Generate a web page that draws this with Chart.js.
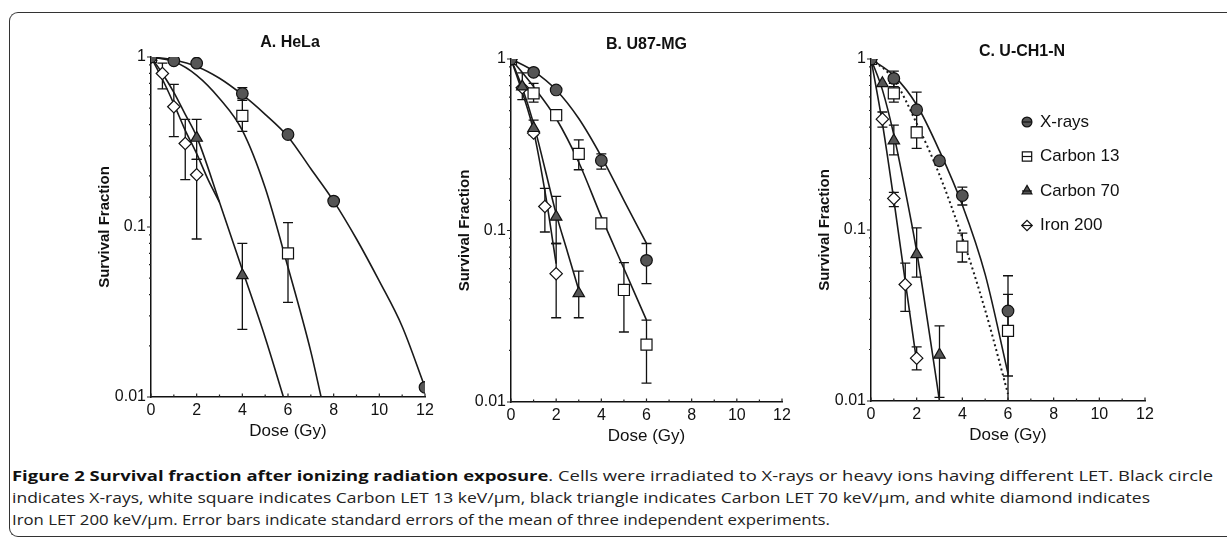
<!DOCTYPE html>
<html>
<head>
<meta charset="utf-8">
<script src="https://cdn.jsdelivr.net/npm/chart.js@4.4.0/dist/chart.umd.min.js"></script>
<style>
  body { margin: 0; width: 1227px; height: 539px; background: #fff; overflow: hidden; position: relative; }
  .frame { position: absolute; left: 9px; top: 12px; width: 1260px; height: 523px; border: 1.5px solid #333; border-right: none; border-radius: 9px 0 0 9px; }
  canvas { position: absolute; }
  .caption { position: absolute; left: 12px; font-family: 'Open Sans', sans-serif; font-size: 14.5px; line-height: 22px; color: #222; white-space: nowrap; transform-origin: 0 0; }
  .caption b { color: #111; }
</style>
</head>
<body>
<div class="frame"></div>
<canvas id="chartA"></canvas>
<canvas id="chartB"></canvas>
<canvas id="chartC"></canvas>
<div class="caption" id="cap1" style="top:465px"><b>Figure 2 Survival fraction after ionizing radiation exposure</b>. Cells were irradiated to X-rays or heavy ions having different LET. Black circle</div>
<div class="caption" id="cap2" style="top:487px">indicates X-rays, white square indicates Carbon LET 13 keV/µm, black triangle indicates Carbon LET 70 keV/µm, and white diamond indicates</div>
<div class="caption" id="cap3" style="top:509px">Iron LET 200 keV/µm. Error bars indicate standard errors of the mean of three independent experiments.</div>
<script>
// axes
const doseTicks = [0, 2, 4, 6, 8, 10, 12];
const sfTicks = [0.01, 0.1, 1];
const panelTitles = ['A. HeLa', 'B. U87-MG', 'C. U-CH1-N'];
const seriesNames = ['X-rays', 'Carbon 13', 'Carbon 70', 'Iron 200'];

// A. HeLa  -- [dose, survival] / [dose, low, high]
const helaXray = [[0,1],[1,0.95],[2,0.92],[4,0.61],[6,0.35],[8,0.142],[12,0.0114]];
const helaXrayErr = [[4,0.57,0.66]];
const helaXrayFit = [[0,1],[1,0.96],[2,0.88],[3,0.75],[4,0.6],[5,0.46],[6,0.34],[7,0.22],[8,0.142],[9,0.085],[10,0.048],[11,0.026],[12,0.0114]];
const helaC13 = [[0,1],[4,0.45],[6,0.07]];
const helaC13Err = [[4,0.365,0.556],[6,0.036,0.106]];
const helaC13Fit = [[0,1],[1,0.94],[2,0.78],[3,0.57],[4,0.37],[5,0.17],[6,0.058],[7,0.0185],[7.45,0.01]];
const helaC70 = [[0,1],[2,0.334],[4,0.052]];
const helaC70Err = [[2,0.25,0.43],[4,0.025,0.08]];
const helaC70Fit = [[0,1],[0.5,0.8],[1,0.62],[1.5,0.46],[2,0.34],[3,0.14],[4,0.056],[5,0.0224],[5.8,0.01]];
const helaIron = [[0,1],[0.5,0.8],[1,0.51],[1.5,0.31],[2,0.203]];
const helaIronErr = [[0.5,0.65,0.92],[1,0.34,0.69],[1.5,0.19,0.43],[2,0.085,0.25]];
const helaIronFit = [[0,1],[0.5,0.74],[1,0.53],[1.5,0.37],[2,0.27],[2.5,0.19],[3,0.14]];

// B. U87-MG
const u87Xray = [[0,1],[1,0.836],[2,0.66],[4,0.256],[6,0.067]];
const u87XrayErr = [[4,0.228,0.28],[6,0.049,0.084]];
const u87XrayFit = [[0,1],[1,0.85],[2,0.66],[3,0.45],[4,0.27],[5,0.15],[6,0.084]];
const u87C13 = [[0,1],[1,0.63],[2,0.47],[3,0.28],[4,0.11],[5,0.045],[6,0.0216]];
const u87C13Err = [[1,0.56,0.72],[3,0.226,0.338],[5,0.0256,0.065],[6,0.0129,0.03]];
const u87C13Fit = [[0,1],[1,0.69],[2,0.45],[3,0.25],[4,0.12],[5,0.06],[6,0.03]];
const u87C70 = [[0,1],[0.5,0.69],[1,0.395],[2,0.12],[3,0.043]];
const u87C70Err = [[0.5,0.58,0.83],[1,0.36,0.44],[2,0.084,0.158],[3,0.031,0.058]];
const u87C70Fit = [[0,1],[0.5,0.68],[1,0.42],[1.5,0.23],[2,0.125],[2.5,0.075],[3,0.045]];
const u87Iron = [[0,1],[0.5,0.68],[1,0.37],[1.5,0.138],[2,0.056]];
const u87IronErr = [[1.5,0.098,0.176],[2,0.031,0.084]];
const u87IronFit = [[0,1],[0.5,0.64],[1,0.38],[1.5,0.17],[2,0.064]];

// C. U-CH1-N
const uchXray = [[0,1],[1,0.77],[2,0.505],[3,0.254],[4,0.159],[6,0.0336]];
const uchXrayErr = [[1,0.69,0.85],[2,0.40,0.64],[4,0.14,0.178],[6,0.009,0.054]];
const uchXrayFit = [[0,1],[1,0.8],[2,0.54],[3,0.29],[4,0.14],[5,0.055],[6,0.0145]];
const uchC13 = [[0,1],[1,0.63],[2,0.372],[4,0.08],[6,0.0257]];
const uchC13Err = [[1,0.56,0.72],[2,0.30,0.40],[4,0.065,0.096],[6,0.014,0.042]];
const uchC13Fit = [[0,1],[1,0.76],[2,0.42],[3,0.21],[4,0.09],[5,0.034],[6,0.011]];
const uchC70 = [[0,1],[0.5,0.72],[1,0.333],[2,0.072],[3,0.0186]];
const uchC70Err = [[1,0.275,0.41],[2,0.053,0.103],[3,0.0105,0.0275]];
const uchC70Fit = [[0,1],[0.5,0.66],[1,0.36],[1.5,0.17],[2,0.075],[2.5,0.028],[3,0.01]];
const uchIron = [[0,1],[0.5,0.445],[1,0.153],[1.5,0.048],[2,0.0178]];
const uchIronErr = [[0.5,0.40,0.49],[1,0.137,0.166],[1.5,0.0334,0.064],[2,0.0152,0.0207]];
const uchIronFit = [[0,1],[0.5,0.42],[1,0.15],[1.5,0.05],[2,0.017]];

Chart.defaults.font.family = "'Liberation Sans', Arial, sans-serif";
Chart.defaults.color = '#111';

const markerStyles = [
  { pointStyle: 'circle', radius: 5.8, fill: '#555' },
  { pointStyle: 'rect', radius: 7.8, fill: '#fff' },
  { pointStyle: 'triangle', radius: 6.6, fill: '#555' },
  { pointStyle: 'rectRot', radius: 6.2, fill: '#fff' }
];

const toXY = arr => arr.map(([x, y]) => ({ x, y }));
const isDecade = v => Math.abs(Math.log10(v) - Math.round(Math.log10(v))) < 1e-6;

const errorBars = {
  id: 'errorBars',
  beforeDatasetsDraw(chart, args, opts) {
    const { ctx, chartArea, scales: { x, y } } = chart;
    ctx.save();
    ctx.beginPath();
    ctx.rect(chartArea.left - 10, chartArea.top - 10, chartArea.right - chartArea.left + 20, chartArea.bottom - chartArea.top + 10);
    ctx.clip();
    ctx.strokeStyle = '#111';
    ctx.lineWidth = 1.3;
    opts.sets.forEach(set => set.forEach(([d, lo, hi]) => {
      const px = x.getPixelForValue(d);
      const p1 = Math.min(y.getPixelForValue(lo), chartArea.bottom);
      const p2 = y.getPixelForValue(hi);
      ctx.beginPath();
      ctx.moveTo(px, p1); ctx.lineTo(px, p2);
      if (lo >= 0.01) { ctx.moveTo(px - 5, p1); ctx.lineTo(px + 5, p1); }
      ctx.moveTo(px - 5, p2); ctx.lineTo(px + 5, p2);
      ctx.stroke();
    }));
    ctx.restore();
  }
};

// small tick marks: inward on x, outward on y (short for minor values)
const tickMarks = {
  id: 'tickMarks',
  afterDraw(chart) {
    const { ctx, chartArea, scales: { x, y } } = chart;
    ctx.save();
    ctx.strokeStyle = '#222';
    ctx.lineWidth = 1.2;
    ctx.beginPath();
    x.ticks.forEach(t => {
      const px = x.getPixelForValue(t.value);
      const len = doseTicks.includes(t.value) ? 3.5 : 2.5;
      ctx.moveTo(px, chartArea.bottom); ctx.lineTo(px, chartArea.bottom - len);
    });
    y.ticks.forEach(t => {
      const py = y.getPixelForValue(t.value);
      const len = isDecade(t.value) ? 4 : 2;
      ctx.moveTo(chartArea.left, py); ctx.lineTo(chartArea.left - len, py);
    });
    ctx.stroke();
    ctx.restore();
  }
};

const panelTitle = {
  id: 'panelTitle',
  afterDraw(chart, args, opts) {
    const { ctx, chartArea } = chart;
    ctx.save();
    ctx.font = "bold 16px 'Liberation Sans', Arial, sans-serif";
    ctx.fillStyle = '#111';
    ctx.textAlign = 'center';
    ctx.textBaseline = 'middle';
    ctx.fillText(opts.text, (chartArea.left + chartArea.right) / 2 + opts.dx, chartArea.top - opts.dy);
    ctx.restore();
  }
};

const seriesLegend = {
  id: 'seriesLegend',
  afterDraw(chart, args, opts) {
    if (!opts.show) return;
    const { ctx, chartArea } = chart;
    ctx.save();
    seriesNames.forEach((name, i) => {
      const mx = chartArea.left + 156;
      const my = chartArea.top + 63 + i * 34.5;
      const st = markerStyles[i];
      ctx.fillStyle = st.fill;
      ctx.strokeStyle = '#111';
      ctx.lineWidth = 1.2;
      Chart.helpers.drawPoint(ctx, { pointStyle: st.pointStyle, radius: st.radius * 0.85, borderWidth: 1.2 }, mx, my);
      ctx.beginPath();
      ctx.moveTo(mx - 5, my); ctx.lineTo(mx + 5, my);
      ctx.stroke();
      ctx.fillStyle = '#111';
      ctx.font = "17px 'Liberation Sans', Arial, sans-serif";
      ctx.textBaseline = 'middle';
      ctx.fillText(name, mx + 13, my);
    });
    ctx.restore();
  }
};

const panels = [
  { id: 'chartA', area: [151, 57, 425, 397], dx: 2, dy: 14,
    points: [helaXray, helaC13, helaC70, helaIron],
    fits: [helaXrayFit, helaC13Fit, helaC70Fit, helaIronFit],
    errs: [helaXrayErr, helaC13Err, helaC70Err, helaIronErr] },
  { id: 'chartB', area: [511, 59, 782, 402], dx: 0, dy: 14,
    points: [u87Xray, u87C13, u87C70, u87Iron],
    fits: [u87XrayFit, u87C13Fit, u87C70Fit, u87IronFit],
    errs: [u87XrayErr, u87C13Err, u87C70Err, u87IronErr] },
  { id: 'chartC', area: [871, 59, 1145, 401], dx: 14, dy: 7, legend: true, dotted: 1,
    points: [uchXray, uchC13, uchC70, uchIron],
    fits: [uchXrayFit, uchC13Fit, uchC70Fit, uchIronFit],
    errs: [uchXrayErr, uchC13Err, uchC70Err, uchIronErr] }
];

const padTop = 30, yAxisW = 60, xAxisH = 45, padRight = 15;

panels.forEach((p, idx) => {
  const [pl, pt, pr, pb] = p.area;
  const cv = document.getElementById(p.id);
  const left = pl - yAxisW, top = pt - padTop;
  const w = pr - left + padRight, h = pb - top + xAxisH;
  cv.width = w; cv.height = h;
  cv.style.left = left + 'px'; cv.style.top = top + 'px';

  const datasets = [];
  p.points.forEach((pts, i) => {
    const st = markerStyles[i];
    datasets.push({
      label: seriesNames[i], data: toXY(pts), showLine: false, order: 0,
      pointStyle: st.pointStyle, pointRadius: st.radius, pointBackgroundColor: st.fill,
      pointBorderColor: '#111', pointBorderWidth: 1.2
    });
  });
  p.fits.forEach((pts, i) => {
    datasets.push({
      label: seriesNames[i] + ' fit', data: toXY(pts), showLine: true, order: 1,
      pointRadius: 0, borderColor: '#1a1a1a', borderWidth: i === p.dotted ? 2 : 1.6,
      borderDash: i === p.dotted ? [2, 3] : [], cubicInterpolationMode: 'monotone'
    });
  });

  new Chart(cv, {
    type: 'scatter',
    data: { datasets },
    plugins: [errorBars, tickMarks, panelTitle, seriesLegend],
    options: {
      responsive: false, animation: false, events: [],
      layout: { padding: { left: 0, top: padTop, right: padRight, bottom: 0 } },
      plugins: {
        legend: { display: false }, tooltip: { enabled: false },
        errorBars: { sets: p.errs },
        panelTitle: { text: panelTitles[idx], dx: p.dx, dy: p.dy },
        seriesLegend: { show: !!p.legend }
      },
      scales: {
        x: {
          type: 'linear', min: 0, max: 12,
          afterFit: s => { s.height = xAxisH; },
          grid: { display: false, drawTicks: false },
          border: { display: true, color: '#111', width: 1.5 },
          ticks: { stepSize: 1, autoSkip: false, maxRotation: 0, padding: 4, font: { size: 16 },
            callback: v => doseTicks.includes(v) ? String(v) : '' },
          title: { display: true, text: 'Dose (Gy)', font: { size: 17 }, padding: { top: 0, bottom: 0 } }
        },
        y: {
          type: 'logarithmic', min: 0.01, max: 1,
          afterFit: s => { s.width = yAxisW; },
          grid: { display: false, drawTicks: false },
          border: { display: true, color: '#111', width: 1.5 },
          ticks: { autoSkip: false, padding: 5, font: { size: 16 },
            callback: v => (isDecade(v) && sfTicks.some(t => Math.abs(t - v) < 1e-9)) ? String(sfTicks.find(t => Math.abs(t - v) < 1e-9)) : '' },
          title: { display: true, text: 'Survival Fraction', font: { size: 15, weight: 'bold' }, padding: { top: 5, bottom: 0 } }
        }
      }
    }
  });
});

// fit caption lines to the widths in the figure
const capWidths = { cap1: 1201, cap2: 1138, cap3: 818 };
function fitCaptions() {
  Object.keys(capWidths).forEach(id => {
    const el = document.getElementById(id);
    el.style.transform = 'none';
    const natural = el.getBoundingClientRect().width;
    el.style.transform = 'scaleX(' + (capWidths[id] / natural) + ')';
  });
}
fitCaptions();
if (document.fonts && document.fonts.ready) document.fonts.ready.then(fitCaptions);
</script>
</body>
</html>
